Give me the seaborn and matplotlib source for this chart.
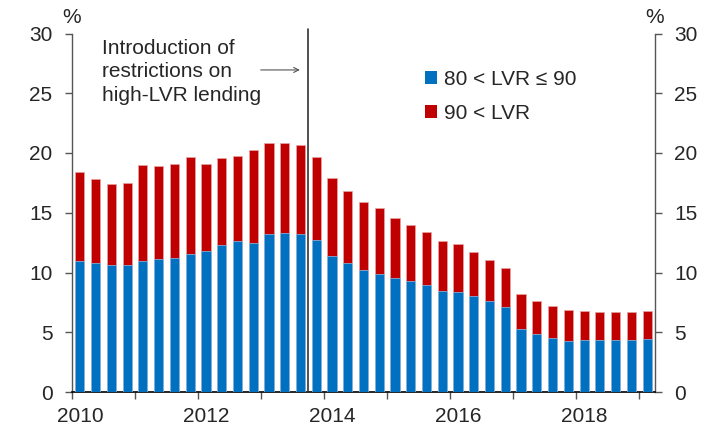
import numpy as np
import pandas as pd
import matplotlib
matplotlib.use("Agg")
import matplotlib.pyplot as plt
import seaborn as sns

# ---- data (quarterly, % of new housing loans) ----
quarters = pd.period_range("2010Q1", "2019Q1", freq="Q")
lvr_80_90 = [10.93, 10.76, 10.63, 10.63, 10.96, 11.10, 11.21, 11.55, 11.82, 12.30,
             12.66, 12.49, 13.19, 13.33, 13.22, 12.72, 11.41, 10.76, 10.21, 9.87,
             9.51, 9.29, 8.98, 8.48, 8.34, 8.00, 7.61, 7.14, 5.24, 4.82,
             4.54, 4.29, 4.35, 4.32, 4.35, 4.35, 4.46]
lvr_90_plus = [7.45, 7.06, 6.80, 6.88, 8.04, 7.84, 7.87, 8.08, 7.28, 7.28,
               7.11, 7.76, 7.65, 7.47, 7.48, 6.91, 6.50, 6.06, 5.71, 5.50,
               5.05, 4.68, 4.43, 4.16, 4.01, 3.72, 3.42, 3.23, 2.99, 2.82,
               2.68, 2.57, 2.45, 2.40, 2.31, 2.31, 2.28]
series_labels = ["80 < LVR \u2264 90", "90 < LVR"]
year_labels = [2010, 2012, 2014, 2016, 2018]
y_ticks = [0, 5, 10, 15, 20, 25, 30]
event_date = 2013.75  # introduction of LVR restrictions (Oct 2013)

BLUE = "#0070C0"
RED = "#C00000"
FS = 15

# position each quarter at its mid-point in decimal years
xpos = quarters.year + (quarters.quarter - 1) / 4 + 0.125
df = pd.DataFrame({"x": np.asarray(xpos, dtype=float),
                   "low": lvr_80_90,
                   "high": lvr_90_plus})
df["total"] = df["low"] + df["high"]

sns.set_theme(style="ticks")
plt.rcParams["font.family"] = ["Liberation Sans", "DejaVu Sans"]

fig = plt.figure(figsize=(7.14, 4.28), dpi=100)
ax = fig.add_axes([72 / 714, 36 / 428, 583 / 714, 358.5 / 428])

sns.barplot(data=df, x="x", y="total", native_scale=True, width=0.58,
            color=RED, edgecolor="#e9a3a3", linewidth=0.5, saturation=1,
            ax=ax, label=series_labels[1], zorder=2)
sns.barplot(data=df, x="x", y="low", native_scale=True, width=0.58,
            color=BLUE, edgecolor="#8fc1e6", linewidth=0.5, saturation=1,
            ax=ax, label=series_labels[0], zorder=3)

ax.set_xlim(2010, 2019.25)
ax.set_ylim(0, 30)
ax.set_xlabel("")
ax.set_ylabel("")

# axes styling
for side in ["left", "right"]:
    ax.spines[side].set_color("#555555")
    ax.spines[side].set_linewidth(1.0)
ax.spines["top"].set_visible(False)
ax.spines["bottom"].set_color("black")
ax.spines["bottom"].set_linewidth(1.2)

ax.set_yticks(y_ticks)
ax.tick_params(axis="y", which="both", left=True, right=True,
               labelleft=True, labelright=True, direction="out",
               length=5, width=1, color="#555555", pad=9, labelsize=FS)

ax.set_xticks(np.arange(2010, 2020))
ax.set_xticklabels([""] * 10)
ax.set_xticks([y + 0.125 for y in year_labels], [str(y) for y in year_labels], minor=True)
ax.tick_params(axis="x", which="major", direction="out", length=5, width=1,
               color="#555555")
ax.tick_params(axis="x", which="minor", length=0, pad=11, labelsize=FS)

# % unit labels
ax.text(0, 1.018, "%", transform=ax.transAxes, ha="center", va="bottom", fontsize=FS)
ax.text(1, 1.018, "%", transform=ax.transAxes, ha="center", va="bottom", fontsize=FS)

# event line and annotation
ax.axvline(event_date, ymin=0, ymax=1.012, color="#333333", lw=1.2,
           clip_on=False, zorder=4)
ax.text(2010.47, 29.55, "Introduction of\nrestrictions on\nhigh-LVR lending",
        ha="left", va="top", fontsize=FS, linespacing=1.3)
ax.annotate("", xy=(2013.66, 26.95), xytext=(2012.95, 26.95),
            arrowprops=dict(arrowstyle="->", color="#555555", lw=0.8,
                            mutation_scale=9))

# legend (blue first)
handles, labels = ax.get_legend_handles_labels()
order = [labels.index(series_labels[0]), labels.index(series_labels[1])]
leg = ax.legend([handles[i] for i in order], [labels[i] for i in order],
                loc="upper left", bbox_to_anchor=(0.592, 0.922), frameon=False,
                fontsize=FS, handlelength=0.55, handleheight=0.55,
                handletextpad=0.35, labelspacing=0.72, borderaxespad=0)
for h in leg.legend_handles:
    h.set_edgecolor("none")

fig.savefig("out.png", dpi=100)
